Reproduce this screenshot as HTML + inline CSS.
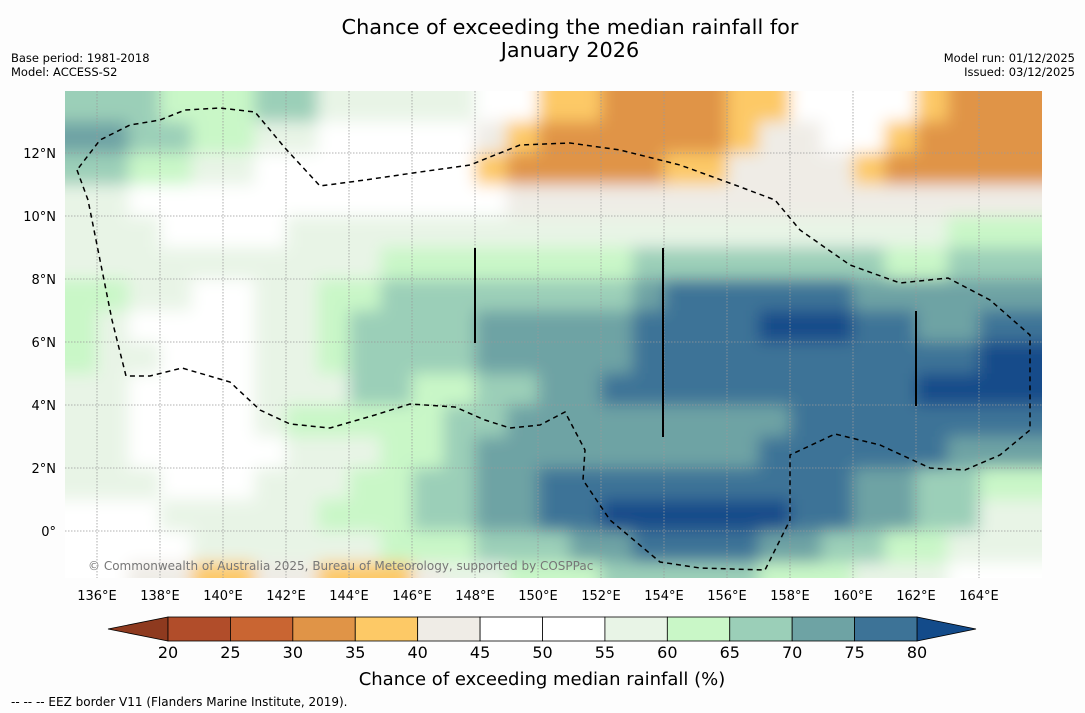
<!DOCTYPE html>
<html><head><meta charset="utf-8">
<style>
body{margin:0;background:#fdfdfd;font-family:"DejaVu Sans","Liberation Sans",sans-serif;}
svg{display:block}
</style></head>
<body>
<svg id="chart" width="1085" height="713" viewBox="0 0 1085 713">
<rect width="1085" height="713" fill="#fdfdfd"/>
<text x="570" y="34" font-size="20.8" text-anchor="middle" fill="#000">Chance of exceeding the median rainfall for</text>
<text x="570" y="57" font-size="20.8" text-anchor="middle" fill="#000">January 2026</text>
<text x="11" y="62" font-size="11.5">Base period: 1981-2018</text>
<text x="11" y="76" font-size="11.5">Model: ACCESS-S2</text>
<text x="1075" y="62" font-size="11.5" text-anchor="end">Model run: 01/12/2025</text>
<text x="1075" y="76" font-size="11.5" text-anchor="end">Issued: 03/12/2025</text>
<defs>
<clipPath id="mapclip"><rect x="65" y="91" width="977" height="487"/></clipPath>
<filter id="soft" x="-5%" y="-5%" width="110%" height="110%"><feGaussianBlur stdDeviation="8"/></filter>
</defs>
<g clip-path="url(#mapclip)">
<rect x="65" y="91" width="977" height="487" fill="#fff"/>
<g id="cells" filter="url(#soft)"></g>
<g id="grid"></g>
<g id="eez"></g>
<line x1="475" y1="248" x2="475" y2="343" stroke="#000" stroke-width="2"/>
<line x1="663" y1="248" x2="663" y2="437" stroke="#000" stroke-width="2"/>
<line x1="916" y1="311" x2="916" y2="406" stroke="#000" stroke-width="2"/>
<text x="88" y="570" font-size="12" fill="#777">© Commonwealth of Australia 2025, Bureau of Meteorology, supported by COSPPac</text>
</g>
<g id="xlabels"></g><g id="ylabels"></g>
<g id="colorbar"></g>
<text x="542" y="685" font-size="18" text-anchor="middle">Chance of exceeding median rainfall (%)</text>
<text x="11" y="706" font-size="12">--  --  -- EEZ border V11 (Flanders Marine Institute, 2019).</text>
</svg>
<script>
const lonTicks=[136,138,140,142,144,146,148,150,152,154,156,158,160,162,164];
const latTicks=[0,2,4,6,8,10,12];
const binEdges=[20,25,30,35,40,45,50,55,60,65,70,75,80];
const binColors=["#b14d2a","#c96532","#e09447","#fdc966","#efece6","#ffffff","#ffffff","#e8f4e6","#c9f7c7","#9bcfb8","#6ea3a4","#3d7397"];
const lowColor="#8e3a1f", highColor="#134b8a";
// Each row: latitude top edge, runs of [endLon, value]
const rowLats=[14,13,12,11,10,9,8,7,6,5,4,3,2,1,0,-1];
const rowRuns=[
[[138,66],[141,62],[143,66],[146,58],[148,55],[150,50],[152,38],[156,33],[158,38],[162,48],[163,38],[166,33]],
[[137,72],[139,67],[141,62],[143,55],[146,52],[148,50],[149,42],[150,38],[156,32],[157,38],[159,44],[161,48],[162,38],[166,32]],
[[137,67],[139,62],[141,55],[146,50],[148,48],[149,38],[154,32],[156,38],[159,42],[160,44],[161,38],[166,32]],
[[137,58],[142,52],[146,50],[149,48],[153,42],[156,44],[160,42],[162,44],[166,42]],
[[138,55],[142,52],[144,55],[146,58],[150,55],[153,57],[157,58],[160,55],[163,58],[165,62],[166,60]],
[[137,58],[140,55],[145,58],[150,62],[153,63],[156,67],[158,66],[161,67],[163,62],[166,66]],
[[137,60],[139,55],[141,52],[143,55],[145,62],[148,67],[150,68],[153,68],[154,72],[156,76],[160,77],[162,74],[164,72],[166,70]],
[[136,60],[137,57],[141,50],[143,55],[144,60],[146,66],[148,67],[153,72],[155,76],[157,77],[160,81],[162,77],[164,74],[166,77]],
[[136,60],[138,55],[141,52],[143,55],[144,62],[148,67],[152,72],[153,74],[162,77],[164,78],[166,81]],
[[137,58],[139,52],[141,50],[142,55],[144,58],[146,67],[148,64],[150,67],[152,72],[156,76],[162,77],[166,82]],
[[137,56],[141,50],[142,57],[144,60],[145,62],[147,64],[149,68],[152,72],[158,74],[160,77],[162,78],[164,79],[166,76]],
[[137,55],[142,52],[145,58],[147,62],[148,67],[150,70],[155,73],[157,74],[159,76],[161,78],[163,76],[166,70]],
[[138,55],[141,52],[144,56],[146,62],[148,68],[150,72],[152,76],[158,78],[160,76],[162,72],[164,67],[166,62]],
[[138,52],[141,55],[143,57],[146,60],[148,66],[150,70],[152,76],[158,82],[160,75],[162,70],[164,65],[166,58]],
[[139,52],[142,55],[145,58],[148,62],[151,67],[153,72],[157,78],[159,74],[161,68],[163,63],[166,57]],
[[137,50],[139,44],[141,38],[143,44],[146,36],[147,44],[149,55],[152,62],[155,67],[157,67],[160,63],[163,58],[166,52]]
];
const lonStart=135;
const xOf=l=>97+(l-136)*31.5;
const yOf=la=>531-la*31.5;
const NS="http://www.w3.org/2000/svg";
function colorFor(v){if(v<20)return lowColor;if(v>=80)return highColor;for(let i=0;i<binColors.length;i++){if(v<binEdges[i+1])return binColors[i];}return highColor;}
const cells=document.getElementById('cells');
rowRuns.forEach((runs,r)=>{
  let start=lonStart;
  runs.forEach(([end,v])=>{
    const rc=document.createElementNS(NS,'rect');
    
    
    const x0=start===lonStart?30:xOf(start), x1=end===166?1080:xOf(end);
    const y0=r===0?60:yOf(rowLats[r]), y1=r===rowRuns.length-1?620:yOf(rowLats[r]-1);
    rc.setAttribute('x',x0);rc.setAttribute('y',y0);
    rc.setAttribute('width',x1-x0+0.5);rc.setAttribute('height',y1-y0+0.5);
    rc.setAttribute('fill',colorFor(v));
    cells.appendChild(rc);
    start=end;
  });
});
const grid=document.getElementById('grid');
lonTicks.forEach(l=>{
  const ln=document.createElementNS(NS,'line');
  
  
  ln.setAttribute('x1',xOf(l));ln.setAttribute('x2',xOf(l));ln.setAttribute('y1',91);ln.setAttribute('y2',578);
  ln.setAttribute('stroke','#999');ln.setAttribute('stroke-width','0.8');ln.setAttribute('stroke-dasharray','1.5,1.5');
  grid.appendChild(ln);
  const t=document.createElementNS(NS,'text');
  
  
  t.setAttribute('x',xOf(l));t.setAttribute('y',600);t.setAttribute('font-size','13');t.setAttribute('text-anchor','middle');
  t.textContent=l+'°E';
  document.getElementById('xlabels').appendChild(t);
});
latTicks.forEach(la=>{
  const ln=document.createElementNS(NS,'line');
  
  
  ln.setAttribute('x1',65);ln.setAttribute('x2',1042);ln.setAttribute('y1',yOf(la));ln.setAttribute('y2',yOf(la));
  ln.setAttribute('stroke','#999');ln.setAttribute('stroke-width','0.8');ln.setAttribute('stroke-dasharray','1.5,1.5');
  grid.appendChild(ln);
  const t=document.createElementNS(NS,'text');
  
  
  t.setAttribute('x',56);t.setAttribute('y',yOf(la)+5);t.setAttribute('font-size','13');t.setAttribute('text-anchor','end');
  t.textContent=la===0?'0°':la+'°N';
  document.getElementById('ylabels').appendChild(t);
});
const eezPts="77,170 88,200 100,260 112,320 126,376 150,376 182,368 230,382 260,410 290,424 330,428 375,415 410,404 455,407 485,420 510,428 540,425 565,412 585,450 583,480 610,520 660,562 700,568 765,570 790,520 790,455 835,434 880,445 930,468 965,470 1000,455 1030,430 1030,335 990,300 948,278 900,283 850,265 800,230 775,200 735,185 680,165 620,150 570,143 520,145 470,165 420,172 365,180 320,186 285,148 255,112 220,108 185,110 160,120 130,125 100,140 77,170";
const eez=document.createElementNS(NS,'polyline');


eez.setAttribute('points',eezPts);eez.setAttribute('fill','none');eez.setAttribute('stroke','#000');
eez.setAttribute('stroke-width','1.5');eez.setAttribute('stroke-dasharray','5,4');
document.getElementById('eez').appendChild(eez);
// colorbar
const cb=document.getElementById('colorbar');
const cbX0=168,cbX1=917,cbY=617,cbH=24,seg=(cbX1-cbX0)/binColors.length;
const lt=document.createElementNS(NS,'polygon');


lt.setAttribute('points',`108,629 ${cbX0},${cbY} ${cbX0},${cbY+cbH}`);lt.setAttribute('fill',lowColor);lt.setAttribute('stroke','#000');lt.setAttribute('stroke-width','0.8');
cb.appendChild(lt);
const rt=document.createElementNS(NS,'polygon');


rt.setAttribute('points',`976,629 ${cbX1},${cbY} ${cbX1},${cbY+cbH}`);rt.setAttribute('fill',highColor);rt.setAttribute('stroke','#000');rt.setAttribute('stroke-width','0.8');
cb.appendChild(rt);
binColors.forEach((c,i)=>{
  const r=document.createElementNS(NS,'rect');
  
  
  r.setAttribute('x',cbX0+i*seg);r.setAttribute('y',cbY);r.setAttribute('width',seg);r.setAttribute('height',cbH);
  r.setAttribute('fill',c);r.setAttribute('stroke','#000');r.setAttribute('stroke-width','0.8');
  cb.appendChild(r);
});
binEdges.forEach((e,i)=>{
  const t=document.createElementNS(NS,'text');
  
  
  t.setAttribute('x',cbX0+i*seg);t.setAttribute('y',658);t.setAttribute('font-size','16');t.setAttribute('text-anchor','middle');
  t.textContent=e;
  cb.appendChild(t);
});
</script>
</body></html>
